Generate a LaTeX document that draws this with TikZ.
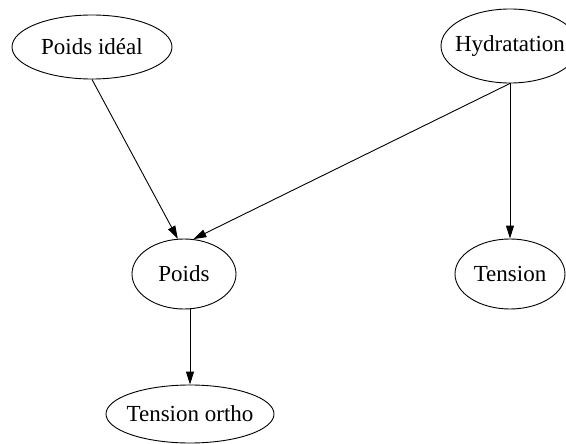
\documentclass[tikz,border=0pt]{standalone}
\usepackage{fontspec}
\setmainfont{Liberation Serif}
\usetikzlibrary{arrows.meta,shapes.geometric}

\newcommand{\varlabel}[1]{\makebox[0pt]{#1}}

\begin{document}
\begin{tikzpicture}[x=1pt,y=-1pt,
  var/.style={draw,ellipse,line width=0.9pt,inner sep=0pt,font=\fontsize{23}{27}\selectfont},
  dep/.style={-{Triangle[length=13pt,width=8pt]},line width=0.9pt}]

\useasboundingbox (0,0) rectangle (566,444);

\node[var,minimum width=160pt,minimum height=64pt] (poidsideal) at (92,47) {\varlabel{Poids idéal}};
\node[var,minimum width=138pt,minimum height=74pt] (hydratation) at (510,46) {\varlabel{Hydratation}};
\node[var,minimum width=104pt,minimum height=70pt] (poids) at (184,274) {\varlabel{Poids}};
\node[var,minimum width=110pt,minimum height=70pt] (tension) at (510,274) {\varlabel{Tension}};
\node[var,minimum width=168pt,minimum height=58pt] (tensionortho) at (190,414) {\varlabel{Tension ortho}};

\draw[dep] (poidsideal.south) -- (poids.100);
\draw[dep] (hydratation.south) -- (poids.75);
\draw[dep] (hydratation.south) -- (tension.north);
\draw[dep] (poids.south -| tensionortho.north) -- (tensionortho.north);
\end{tikzpicture}
\end{document}
